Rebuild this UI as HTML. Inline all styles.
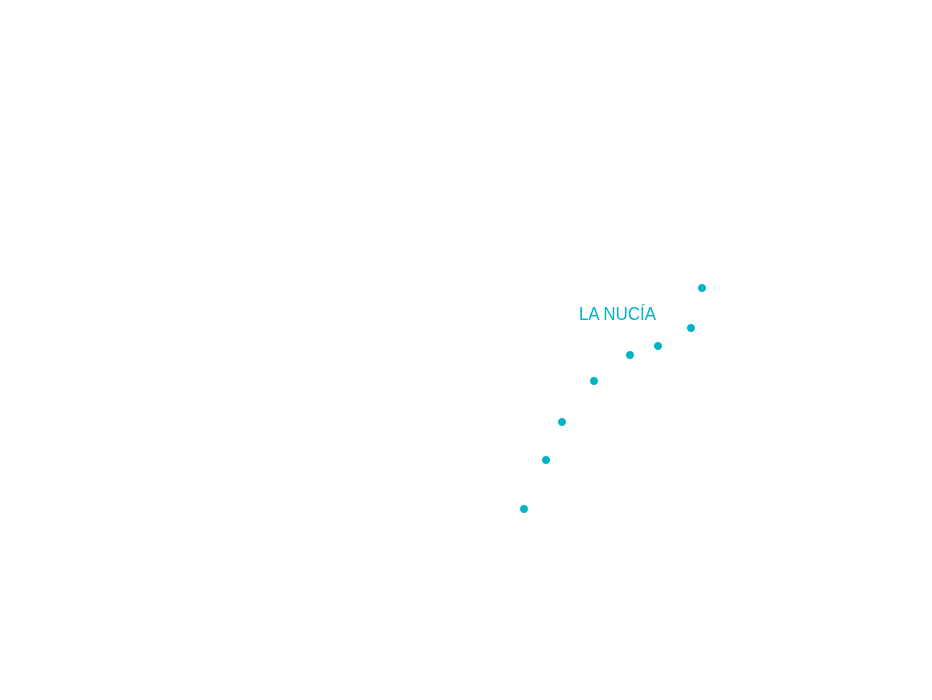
<!DOCTYPE html>
<html><head><style>
html,body{margin:0;padding:0;background:#fff;}
body{width:932px;height:700px;position:relative;overflow:hidden;}
svg{position:absolute;left:0;top:0;}
</style></head><body>
<svg width="932" height="700" viewBox="0 0 932 700">
<g fill="#00b4c6">
<circle cx="702" cy="288" r="4"/>
<circle cx="691" cy="328" r="4"/>
<circle cx="658" cy="346" r="4"/>
<circle cx="630" cy="355" r="4"/>
<circle cx="594" cy="381" r="4"/>
<circle cx="562" cy="422" r="4"/>
<circle cx="546" cy="460" r="4"/>
<circle cx="524" cy="509" r="4"/>
</g>
<text x="579" y="320" font-family="Liberation Sans, sans-serif" font-size="18" fill="#00b4c6" textLength="77" lengthAdjust="spacingAndGlyphs">LA NUCÍA</text>
</svg>
</body></html>
